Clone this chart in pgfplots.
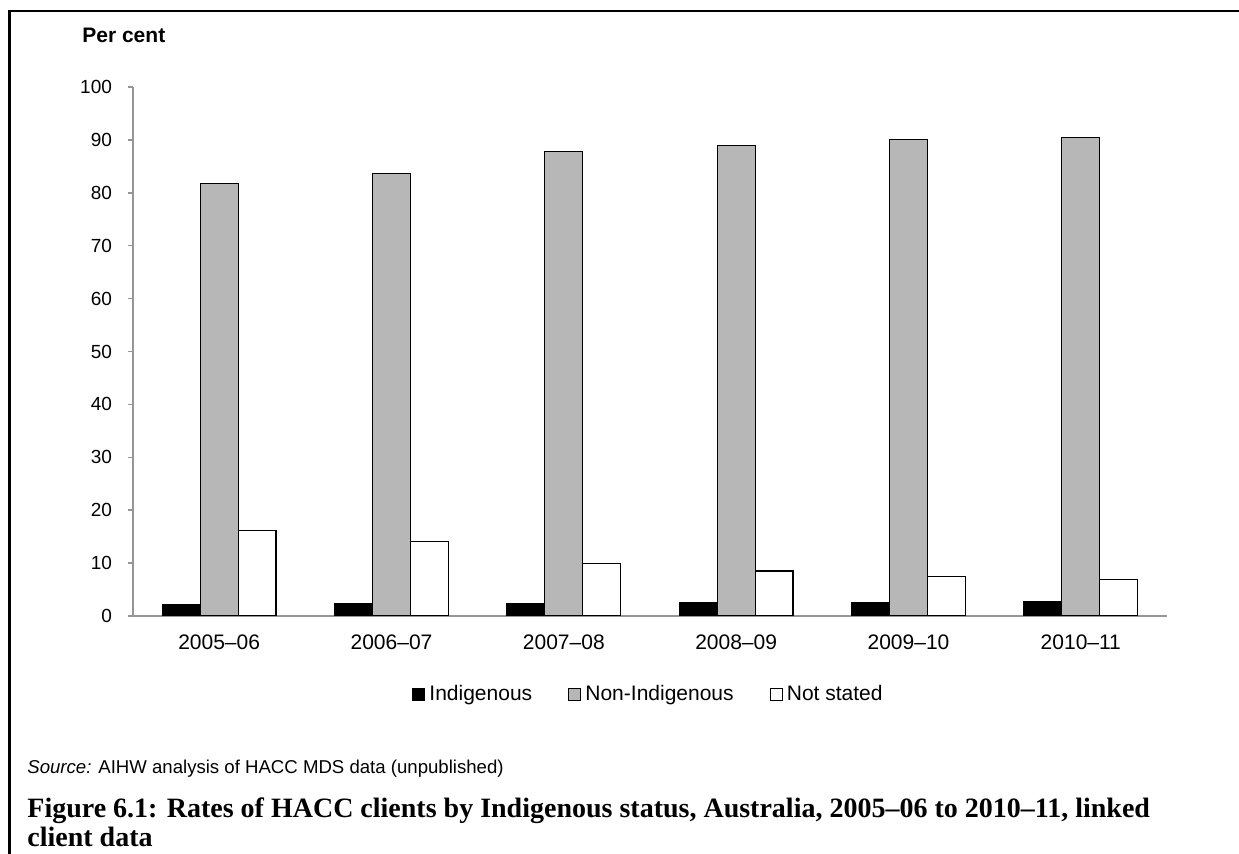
\documentclass[border=0pt]{standalone}
\usepackage{fontspec}
\setmainfont{Liberation Sans}
\newfontfamily\capfont{Liberation Serif}
\usepackage{pgfplots}
\pgfplotsset{compat=1.18}

\definecolor{axisgray}{RGB}{150,150,150}
\definecolor{bargray}{RGB}{183,183,183}

% values (per cent)
\pgfplotstableread{
x  indig nonindig notstated
0  2.1   81.7     16.2
1  2.3   83.6     14.1
2  2.4   87.8      9.9
3  2.5   89.0      8.5
4  2.5   90.1      7.5
5  2.7   90.5      6.9
}\hacc

\begin{document}
\begin{tikzpicture}
% page is 1239 x 854 px, 1px = 0.5pt, origin at top left
\useasboundingbox (0,0) rectangle (619.5pt,-427pt);
\draw[line width=1.25pt] (4.75pt,-430pt) -- (4.75pt,-5.4pt) -- (625pt,-5.4pt);

\node[anchor=west, font=\fontsize{10.5}{12}\selectfont\bfseries, inner sep=0pt]
  at (41pt,-17.75pt) {Per cent};

\begin{axis}[
  at={(66.5pt,-308pt)}, anchor=south west,
  scale only axis,
  width=517pt, height=264.5pt,
  xmin=-0.5, xmax=5.5,
  ymin=0, ymax=100,
  ytick={0,10,...,100},
  xtick={0,...,5},
  xticklabels={2005–06,2006–07,2007–08,2008–09,2009–10,2010–11},
  minor xtick={-0.5,0.5,...,5.5},
  xtick style={draw=none},
  axis x line*=bottom, axis y line*=left,
  axis line style={draw=axisgray, line width=0.75pt, -},
  tick style={draw=axisgray, line width=0.75pt},
  tick align=outside,
  major tick length=2.5pt, minor tick length=3.25pt,
  /pgf/number format/assume math mode=true,
  ticklabel style={font=\fontsize{9.5}{11}\selectfont},
  yticklabel style={xshift=-4.5pt},
  xticklabel style={font=\fontsize{10.5}{12}\selectfont, yshift=-3.5pt},
  ybar=0pt, bar width=0.22,
  legend columns=3,
  legend style={at={(0.498,-0.149)}, anchor=center, draw=none, fill=none,
    inner sep=0pt, font=\fontsize{10.5}{12}\selectfont,
    nodes={inner sep=0.5pt},
    /tikz/every odd column/.append style={column sep=1.5pt},
    /tikz/every even column/.append style={column sep=17.5pt}},
  legend image code/.code={\draw[#1, line width=0.6pt] (0pt,-3pt) rectangle (6pt,3pt);},
]
\addplot[fill=black, draw=black, line width=0.6pt] table[x=x, y=indig] {\hacc};
\addplot[fill=bargray, draw=black, line width=0.6pt] table[x=x, y=nonindig] {\hacc};
\addplot[fill=white, draw=black, line width=0.6pt] table[x=x, y=notstated] {\hacc};
\legend{Indigenous, Non-Indigenous, Not stated}
\end{axis}

\node[anchor=west, font=\fontsize{9.3}{11}\selectfont, inner sep=0pt]
  at (13.5pt,-384.25pt) {\textit{Source:} AIHW analysis of HACC MDS data (unpublished)};
\node[anchor=base west, font=\capfont\fontsize{14}{16}\selectfont\bfseries, inner sep=0pt]
  at (13.5pt,-408.75pt) {Figure 6.1: Rates of HACC clients by Indigenous status, Australia, 2005–06 to 2010–11, linked};
\node[anchor=base west, font=\capfont\fontsize{14}{16}\selectfont\bfseries, inner sep=0pt]
  at (13.5pt,-423.5pt) {client data};
\end{tikzpicture}
\end{document}
